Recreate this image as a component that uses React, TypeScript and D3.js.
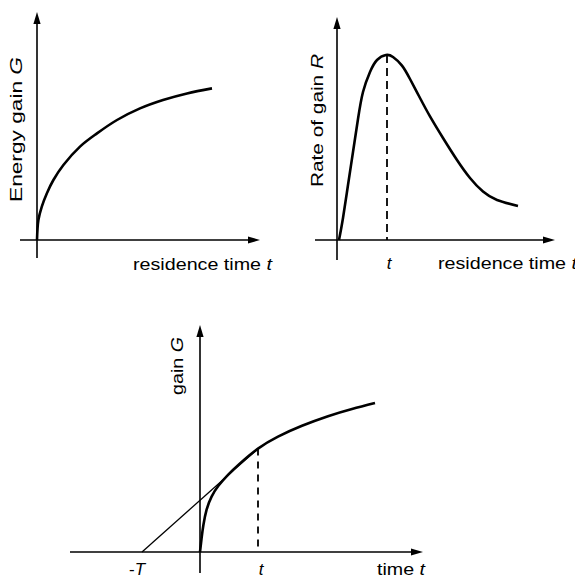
import React from "react";
import * as d3 from "d3";

// Panel A: Energy gain G vs residence time t
const energyT = [0, 0.07, 0.24, 0.49, 0.82, 1.32, 2.15, 3.0, 4.0, 5.15, 6.3, 7.5, 8.75];
const energyG = [0, 1.0, 1.67, 2.33, 3.0, 3.75, 4.67, 5.33, 6.0, 6.58, 7.0, 7.33, 7.58];

// Panel B: Rate of gain R vs residence time t
const rateT = [0.1, 0.3, 0.55, 0.8, 1.05, 1.3, 1.65, 2.0, 2.45, 2.8, 3.25, 3.65, 4.15, 4.65, 5.3, 6.0, 6.65, 7.3, 8.0, 9.05];
const rateR = [0, 1.1, 2.75, 4.4, 6.05, 7.4, 8.4, 9.0, 9.25, 9.15, 8.72, 8.05, 7.1, 6.18, 5.1, 4.0, 3.1, 2.42, 2.0, 1.7];
const peakT = 2.5;
const peakR = 9.25;

// Panel C: gain G vs time t with tangent from -T
const gainT = [0, 0.08, 0.17, 0.33, 0.58, 0.92, 1.4, 2.0, 2.9, 3.9, 5.1, 6.4, 7.6, 8.75];
const gainG = [0, 0.7, 1.35, 2.12, 2.77, 3.31, 3.86, 4.43, 5.17, 5.77, 6.31, 6.79, 7.15, 7.45];
const tangentT = 2.9;
const tangentG = 5.17;
const minusT = -2.9;

const FONT = "'Liberation Sans', Arial, Helvetica, sans-serif";

function arrowHead(x: number, y: number, dir: "up" | "right", len = 12, half = 3.6) {
  if (dir === "up") return `M${x},${y}L${x - half},${y + len}L${x + half},${y + len}Z`;
  return `M${x},${y}L${x - len},${y - half}L${x - len},${y + half}Z`;
}

function Axes({ x, y, xMin, xMax, yMin, yMax }: any) {
  const x0 = x(0), y0 = y(0);
  return (
    <g>
      <line x1={x(xMin)} y1={y0} x2={x(xMax) - 8} y2={y0} stroke="#000" strokeWidth={1.6} />
      <line x1={x0} y1={y(yMin)} x2={x0} y2={y(yMax) + 8} stroke="#000" strokeWidth={1.6} />
      <path d={arrowHead(x(xMax), y0, "right")} fill="#000" />
      <path d={arrowHead(x0, y(yMax), "up")} fill="#000" />
    </g>
  );
}

export default function App() {
  const line = (xs: any, ys: any, curve: any) =>
    d3.line<[number, number]>().x((d) => xs(d[0])).y((d) => ys(d[1])).curve(curve);

  // Panel A scales
  const xA = d3.scaleLinear().domain([0, 10]).range([37, 237]);
  const yA = d3.scaleLinear().domain([0, 10]).range([240, 40]);
  const ptsA = energyT.map((t, i) => [t, energyG[i]] as [number, number]);

  // Panel B scales
  const xB = d3.scaleLinear().domain([0, 10]).range([337, 537]);
  const yB = d3.scaleLinear().domain([0, 10]).range([240, 40]);
  const ptsB = rateT.map((t, i) => [t, rateR[i]] as [number, number]);

  // Panel C scales
  const xC = d3.scaleLinear().domain([0, 10]).range([200, 400]);
  const yC = d3.scaleLinear().domain([0, 10]).range([552, 352]);
  const ptsC = gainT.map((t, i) => [t, gainG[i]] as [number, number]);

  return (
    <svg width={575} height={581} style={{ position: "absolute", left: 0, top: 0, background: "#fff" }} fontFamily={FONT}>
      <rect width={575} height={581} fill="#fff" />
      {/* Panel A */}
      <Axes x={xA} y={yA} xMin={-0.85} xMax={11.15} yMin={-0.9} yMax={11.4} />
      <path d={line(xA, yA, d3.curveCatmullRom.alpha(0.5))(ptsA) || ""} fill="none" stroke="#000" strokeWidth={2.6} />
      <text x={133} y={270} fontSize={17} textLength={139} lengthAdjust="spacingAndGlyphs">
        residence time <tspan fontStyle="italic">t</tspan>
      </text>
      <text transform="translate(22,202) rotate(-90)" fontSize={17} textLength={145} lengthAdjust="spacingAndGlyphs">
        Energy gain <tspan fontStyle="italic">G</tspan>
      </text>

      {/* Panel B */}
      <Axes x={xB} y={yB} xMin={-1.1} xMax={10.9} yMin={-1} yMax={11.15} />
      <path d={line(xB, yB, d3.curveNatural)(ptsB) || ""} fill="none" stroke="#000" strokeWidth={2.6} />
      <line x1={xB(peakT)} y1={yB(peakR)} x2={xB(peakT)} y2={yB(0)} stroke="#000" strokeWidth={1.8} strokeDasharray="8,5" />
      <text x={xB(peakT) + 2} y={269} fontSize={17} fontStyle="italic" textAnchor="middle">t</text>
      <text x={438} y={269} fontSize={17} textLength={139} lengthAdjust="spacingAndGlyphs">
        residence time <tspan fontStyle="italic">t</tspan>
      </text>
      <text transform="translate(323,187) rotate(-90)" fontSize={17} textLength={133} lengthAdjust="spacingAndGlyphs">
        Rate of gain <tspan fontStyle="italic">R</tspan>
      </text>

      {/* Panel C */}
      <Axes x={xC} y={yC} xMin={-6.5} xMax={11.15} yMin={-1.05} yMax={11.35} />
      <path d={line(xC, yC, d3.curveNatural)(ptsC) || ""} fill="none" stroke="#000" strokeWidth={2.6} />
      <line x1={xC(minusT)} y1={yC(0)} x2={xC(tangentT)} y2={yC(tangentG)} stroke="#000" strokeWidth={1.3} />
      <line x1={xC(tangentT)} y1={yC(tangentG)} x2={xC(tangentT)} y2={yC(0)} stroke="#000" strokeWidth={1.8} strokeDasharray="7,6" />
      <text x={xC(minusT) - 5} y={575} fontSize={17} textAnchor="middle">-<tspan fontStyle="italic">T</tspan></text>
      <text x={xC(tangentT) + 3} y={575} fontSize={17} fontStyle="italic" textAnchor="middle">t</text>
      <text x={377} y={575} fontSize={17} textLength={48} lengthAdjust="spacingAndGlyphs">
        time <tspan fontStyle="italic">t</tspan>
      </text>
      <text transform="translate(183,395) rotate(-90)" fontSize={17} textLength={58} lengthAdjust="spacingAndGlyphs">
        gain <tspan fontStyle="italic">G</tspan>
      </text>
    </svg>
  );
}
